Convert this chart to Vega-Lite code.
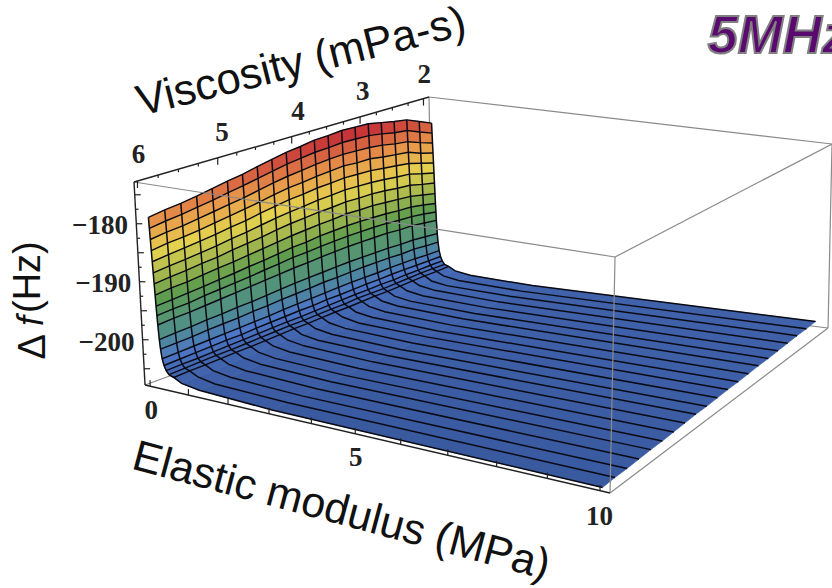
{"$schema":"https://vega.github.io/schema/vega-lite/v6.json","width":832,"height":588,"padding":0,"autosize":"none","background":"white","view":{"stroke":null},
"datasets":{"all":[
{"v":2,"e":0.1,"d":-177.3},{"v":2,"e":0.11,"d":-179.2},{"v":2,"e":0.12,"d":-181.1},{"v":2,"e":0.13,"d":-183},{"v":2,"e":0.14,"d":-184.9},{"v":2,"e":0.15,"d":-186.8},{"v":2,"e":0.16,"d":-188.7},{"v":2,"e":0.17,"d":-190.7},{"v":2,"e":0.18,"d":-192.6},{"v":2,"e":0.19,"d":-194.2},{"v":2,"e":0.2,"d":-195.8},{"v":2,"e":0.22,"d":-198.3},{"v":2,"e":0.24,"d":-199.9},{"v":2,"e":0.27,"d":-201.5},{"v":2,"e":0.31,"d":-202.6},{"v":2,"e":0.36,"d":-203.4},{"v":2,"e":0.43,"d":-204},{"v":2,"e":0.55,"d":-204.3},{"v":2,"e":0.75,"d":-205},{"v":2,"e":1.2,"d":-205.5},{"v":2,"e":3,"d":-206},{"v":2,"e":10,"d":-206.2},
{"v":2.2,"e":0.1,"d":-176.3},{"v":2.2,"e":0.11,"d":-178.3},{"v":2.2,"e":0.12,"d":-180.3},{"v":2.2,"e":0.13,"d":-182.3},{"v":2.2,"e":0.14,"d":-184.2},{"v":2.2,"e":0.15,"d":-186.2},{"v":2.2,"e":0.16,"d":-188.2},{"v":2.2,"e":0.17,"d":-190.2},{"v":2.2,"e":0.18,"d":-192.1},{"v":2.2,"e":0.19,"d":-193.8},{"v":2.2,"e":0.2,"d":-195.5},{"v":2.2,"e":0.22,"d":-198.1},{"v":2.2,"e":0.24,"d":-199.8},{"v":2.2,"e":0.27,"d":-201.5},{"v":2.2,"e":0.31,"d":-202.6},{"v":2.2,"e":0.36,"d":-203.4},{"v":2.2,"e":0.43,"d":-204},{"v":2.2,"e":0.55,"d":-204.4},{"v":2.2,"e":0.75,"d":-205.1},{"v":2.2,"e":1.2,"d":-205.6},{"v":2.2,"e":3,"d":-206.1},{"v":2.2,"e":10,"d":-206.3},
{"v":2.4,"e":0.1,"d":-175.3},{"v":2.4,"e":0.11,"d":-177.3},{"v":2.4,"e":0.12,"d":-179.4},{"v":2.4,"e":0.13,"d":-181.4},{"v":2.4,"e":0.14,"d":-183.5},{"v":2.4,"e":0.15,"d":-185.5},{"v":2.4,"e":0.16,"d":-187.6},{"v":2.4,"e":0.17,"d":-189.7},{"v":2.4,"e":0.18,"d":-191.7},{"v":2.4,"e":0.19,"d":-193.5},{"v":2.4,"e":0.2,"d":-195.2},{"v":2.4,"e":0.22,"d":-197.9},{"v":2.4,"e":0.24,"d":-199.6},{"v":2.4,"e":0.27,"d":-201.4},{"v":2.4,"e":0.31,"d":-202.6},{"v":2.4,"e":0.36,"d":-203.5},{"v":2.4,"e":0.43,"d":-204},{"v":2.4,"e":0.55,"d":-204.4},{"v":2.4,"e":0.75,"d":-205.2},{"v":2.4,"e":1.2,"d":-205.7},{"v":2.4,"e":3,"d":-206.1},{"v":2.4,"e":10,"d":-206.3},
{"v":2.6,"e":0.1,"d":-174.9},{"v":2.6,"e":0.11,"d":-177},{"v":2.6,"e":0.12,"d":-179.1},{"v":2.6,"e":0.13,"d":-181.1},{"v":2.6,"e":0.14,"d":-183.2},{"v":2.6,"e":0.15,"d":-185.3},{"v":2.6,"e":0.16,"d":-187.4},{"v":2.6,"e":0.17,"d":-189.5},{"v":2.6,"e":0.18,"d":-191.6},{"v":2.6,"e":0.19,"d":-193.4},{"v":2.6,"e":0.2,"d":-195.2},{"v":2.6,"e":0.22,"d":-197.9},{"v":2.6,"e":0.24,"d":-199.7},{"v":2.6,"e":0.27,"d":-201.4},{"v":2.6,"e":0.31,"d":-202.6},{"v":2.6,"e":0.36,"d":-203.5},{"v":2.6,"e":0.43,"d":-204.1},{"v":2.6,"e":0.55,"d":-204.5},{"v":2.6,"e":0.75,"d":-205.2},{"v":2.6,"e":1.2,"d":-205.7},{"v":2.6,"e":3,"d":-206.2},{"v":2.6,"e":10,"d":-206.4},
{"v":2.8,"e":0.1,"d":-174.4},{"v":2.8,"e":0.11,"d":-176.5},{"v":2.8,"e":0.12,"d":-178.6},{"v":2.8,"e":0.13,"d":-180.8},{"v":2.8,"e":0.14,"d":-182.9},{"v":2.8,"e":0.15,"d":-185},{"v":2.8,"e":0.16,"d":-187.1},{"v":2.8,"e":0.17,"d":-189.3},{"v":2.8,"e":0.18,"d":-191.4},{"v":2.8,"e":0.19,"d":-193.2},{"v":2.8,"e":0.2,"d":-195},{"v":2.8,"e":0.22,"d":-197.8},{"v":2.8,"e":0.24,"d":-199.6},{"v":2.8,"e":0.27,"d":-201.4},{"v":2.8,"e":0.31,"d":-202.6},{"v":2.8,"e":0.36,"d":-203.6},{"v":2.8,"e":0.43,"d":-204.2},{"v":2.8,"e":0.55,"d":-204.6},{"v":2.8,"e":0.75,"d":-205.3},{"v":2.8,"e":1.2,"d":-205.8},{"v":2.8,"e":3,"d":-206.3},{"v":2.8,"e":10,"d":-206.5},
{"v":3,"e":0.1,"d":-173.9},{"v":3,"e":0.11,"d":-176.1},{"v":3,"e":0.12,"d":-178.3},{"v":3,"e":0.13,"d":-180.4},{"v":3,"e":0.14,"d":-182.6},{"v":3,"e":0.15,"d":-184.8},{"v":3,"e":0.16,"d":-186.9},{"v":3,"e":0.17,"d":-189.1},{"v":3,"e":0.18,"d":-191.3},{"v":3,"e":0.19,"d":-193.1},{"v":3,"e":0.2,"d":-195},{"v":3,"e":0.22,"d":-197.8},{"v":3,"e":0.24,"d":-199.6},{"v":3,"e":0.27,"d":-201.5},{"v":3,"e":0.31,"d":-202.7},{"v":3,"e":0.36,"d":-203.6},{"v":3,"e":0.43,"d":-204.3},{"v":3,"e":0.55,"d":-204.7},{"v":3,"e":0.75,"d":-205.4},{"v":3,"e":1.2,"d":-205.9},{"v":3,"e":3,"d":-206.4},{"v":3,"e":10,"d":-206.6},
{"v":3.2,"e":0.1,"d":-173.8},{"v":3.2,"e":0.11,"d":-176},{"v":3.2,"e":0.12,"d":-178.2},{"v":3.2,"e":0.13,"d":-180.4},{"v":3.2,"e":0.14,"d":-182.5},{"v":3.2,"e":0.15,"d":-184.7},{"v":3.2,"e":0.16,"d":-186.9},{"v":3.2,"e":0.17,"d":-189.1},{"v":3.2,"e":0.18,"d":-191.2},{"v":3.2,"e":0.19,"d":-193.1},{"v":3.2,"e":0.2,"d":-195},{"v":3.2,"e":0.22,"d":-197.8},{"v":3.2,"e":0.24,"d":-199.6},{"v":3.2,"e":0.27,"d":-201.5},{"v":3.2,"e":0.31,"d":-202.7},{"v":3.2,"e":0.36,"d":-203.7},{"v":3.2,"e":0.43,"d":-204.3},{"v":3.2,"e":0.55,"d":-204.7},{"v":3.2,"e":0.75,"d":-205.4},{"v":3.2,"e":1.2,"d":-205.9},{"v":3.2,"e":3,"d":-206.4},{"v":3.2,"e":10,"d":-206.6},
{"v":3.4,"e":0.1,"d":-173.7},{"v":3.4,"e":0.11,"d":-175.9},{"v":3.4,"e":0.12,"d":-178.1},{"v":3.4,"e":0.13,"d":-180.2},{"v":3.4,"e":0.14,"d":-182.4},{"v":3.4,"e":0.15,"d":-184.6},{"v":3.4,"e":0.16,"d":-186.8},{"v":3.4,"e":0.17,"d":-189},{"v":3.4,"e":0.18,"d":-191.2},{"v":3.4,"e":0.19,"d":-193.1},{"v":3.4,"e":0.2,"d":-195},{"v":3.4,"e":0.22,"d":-197.8},{"v":3.4,"e":0.24,"d":-199.7},{"v":3.4,"e":0.27,"d":-201.5},{"v":3.4,"e":0.31,"d":-202.8},{"v":3.4,"e":0.36,"d":-203.7},{"v":3.4,"e":0.43,"d":-204.3},{"v":3.4,"e":0.55,"d":-204.8},{"v":3.4,"e":0.75,"d":-205.5},{"v":3.4,"e":1.2,"d":-206},{"v":3.4,"e":3,"d":-206.5},{"v":3.4,"e":10,"d":-206.7},
{"v":3.6,"e":0.1,"d":-173.9},{"v":3.6,"e":0.11,"d":-176.1},{"v":3.6,"e":0.12,"d":-178.2},{"v":3.6,"e":0.13,"d":-180.4},{"v":3.6,"e":0.14,"d":-182.6},{"v":3.6,"e":0.15,"d":-184.8},{"v":3.6,"e":0.16,"d":-187},{"v":3.6,"e":0.17,"d":-189.2},{"v":3.6,"e":0.18,"d":-191.3},{"v":3.6,"e":0.19,"d":-193.2},{"v":3.6,"e":0.2,"d":-195.1},{"v":3.6,"e":0.22,"d":-197.9},{"v":3.6,"e":0.24,"d":-199.8},{"v":3.6,"e":0.27,"d":-201.6},{"v":3.6,"e":0.31,"d":-202.9},{"v":3.6,"e":0.36,"d":-203.8},{"v":3.6,"e":0.43,"d":-204.5},{"v":3.6,"e":0.55,"d":-204.9},{"v":3.6,"e":0.75,"d":-205.6},{"v":3.6,"e":1.2,"d":-206.1},{"v":3.6,"e":3,"d":-206.6},{"v":3.6,"e":10,"d":-206.8},
{"v":3.8,"e":0.1,"d":-174},{"v":3.8,"e":0.11,"d":-176.2},{"v":3.8,"e":0.12,"d":-178.4},{"v":3.8,"e":0.13,"d":-180.6},{"v":3.8,"e":0.14,"d":-182.7},{"v":3.8,"e":0.15,"d":-184.9},{"v":3.8,"e":0.16,"d":-187.1},{"v":3.8,"e":0.17,"d":-189.3},{"v":3.8,"e":0.18,"d":-191.4},{"v":3.8,"e":0.19,"d":-193.3},{"v":3.8,"e":0.2,"d":-195.2},{"v":3.8,"e":0.22,"d":-198},{"v":3.8,"e":0.24,"d":-199.8},{"v":3.8,"e":0.27,"d":-201.7},{"v":3.8,"e":0.31,"d":-202.9},{"v":3.8,"e":0.36,"d":-203.9},{"v":3.8,"e":0.43,"d":-204.5},{"v":3.8,"e":0.55,"d":-204.9},{"v":3.8,"e":0.75,"d":-205.6},{"v":3.8,"e":1.2,"d":-206.2},{"v":3.8,"e":3,"d":-206.6},{"v":3.8,"e":10,"d":-206.8},
{"v":4,"e":0.1,"d":-174.4},{"v":4,"e":0.11,"d":-176.5},{"v":4,"e":0.12,"d":-178.7},{"v":4,"e":0.13,"d":-180.9},{"v":4,"e":0.14,"d":-183},{"v":4,"e":0.15,"d":-185.2},{"v":4,"e":0.16,"d":-187.3},{"v":4,"e":0.17,"d":-189.5},{"v":4,"e":0.18,"d":-191.7},{"v":4,"e":0.19,"d":-193.5},{"v":4,"e":0.2,"d":-195.4},{"v":4,"e":0.22,"d":-198.1},{"v":4,"e":0.24,"d":-200},{"v":4,"e":0.27,"d":-201.8},{"v":4,"e":0.31,"d":-203.1},{"v":4,"e":0.36,"d":-204},{"v":4,"e":0.43,"d":-204.6},{"v":4,"e":0.55,"d":-205},{"v":4,"e":0.75,"d":-205.7},{"v":4,"e":1.2,"d":-206.2},{"v":4,"e":3,"d":-206.7},{"v":4,"e":10,"d":-206.9},
{"v":4.2,"e":0.1,"d":-174.7},{"v":4.2,"e":0.11,"d":-176.8},{"v":4.2,"e":0.12,"d":-179},{"v":4.2,"e":0.13,"d":-181.1},{"v":4.2,"e":0.14,"d":-183.2},{"v":4.2,"e":0.15,"d":-185.4},{"v":4.2,"e":0.16,"d":-187.5},{"v":4.2,"e":0.17,"d":-189.7},{"v":4.2,"e":0.18,"d":-191.8},{"v":4.2,"e":0.19,"d":-193.6},{"v":4.2,"e":0.2,"d":-195.5},{"v":4.2,"e":0.22,"d":-198.2},{"v":4.2,"e":0.24,"d":-200.1},{"v":4.2,"e":0.27,"d":-201.9},{"v":4.2,"e":0.31,"d":-203.1},{"v":4.2,"e":0.36,"d":-204.1},{"v":4.2,"e":0.43,"d":-204.7},{"v":4.2,"e":0.55,"d":-205.1},{"v":4.2,"e":0.75,"d":-205.8},{"v":4.2,"e":1.2,"d":-206.3},{"v":4.2,"e":3,"d":-206.8},{"v":4.2,"e":10,"d":-207},
{"v":4.4,"e":0.1,"d":-175.2},{"v":4.4,"e":0.11,"d":-177.3},{"v":4.4,"e":0.12,"d":-179.4},{"v":4.4,"e":0.13,"d":-181.5},{"v":4.4,"e":0.14,"d":-183.6},{"v":4.4,"e":0.15,"d":-185.7},{"v":4.4,"e":0.16,"d":-187.8},{"v":4.4,"e":0.17,"d":-190},{"v":4.4,"e":0.18,"d":-192.1},{"v":4.4,"e":0.19,"d":-193.9},{"v":4.4,"e":0.2,"d":-195.7},{"v":4.4,"e":0.22,"d":-198.4},{"v":4.4,"e":0.24,"d":-200.2},{"v":4.4,"e":0.27,"d":-202},{"v":4.4,"e":0.31,"d":-203.2},{"v":4.4,"e":0.36,"d":-204.1},{"v":4.4,"e":0.43,"d":-204.7},{"v":4.4,"e":0.55,"d":-205.1},{"v":4.4,"e":0.75,"d":-205.9},{"v":4.4,"e":1.2,"d":-206.4},{"v":4.4,"e":3,"d":-206.8},{"v":4.4,"e":10,"d":-207},
{"v":4.6,"e":0.1,"d":-175.7},{"v":4.6,"e":0.11,"d":-177.8},{"v":4.6,"e":0.12,"d":-179.9},{"v":4.6,"e":0.13,"d":-182},{"v":4.6,"e":0.14,"d":-184},{"v":4.6,"e":0.15,"d":-186.1},{"v":4.6,"e":0.16,"d":-188.2},{"v":4.6,"e":0.17,"d":-190.3},{"v":4.6,"e":0.18,"d":-192.4},{"v":4.6,"e":0.19,"d":-194.1},{"v":4.6,"e":0.2,"d":-195.9},{"v":4.6,"e":0.22,"d":-198.6},{"v":4.6,"e":0.24,"d":-200.4},{"v":4.6,"e":0.27,"d":-202.2},{"v":4.6,"e":0.31,"d":-203.3},{"v":4.6,"e":0.36,"d":-204.2},{"v":4.6,"e":0.43,"d":-204.8},{"v":4.6,"e":0.55,"d":-205.2},{"v":4.6,"e":0.75,"d":-205.9},{"v":4.6,"e":1.2,"d":-206.4},{"v":4.6,"e":3,"d":-206.9},{"v":4.6,"e":10,"d":-207.1},
{"v":4.8,"e":0.1,"d":-176.3},{"v":4.8,"e":0.11,"d":-178.3},{"v":4.8,"e":0.12,"d":-180.4},{"v":4.8,"e":0.13,"d":-182.4},{"v":4.8,"e":0.14,"d":-184.5},{"v":4.8,"e":0.15,"d":-186.5},{"v":4.8,"e":0.16,"d":-188.5},{"v":4.8,"e":0.17,"d":-190.6},{"v":4.8,"e":0.18,"d":-192.6},{"v":4.8,"e":0.19,"d":-194.4},{"v":4.8,"e":0.2,"d":-196.1},{"v":4.8,"e":0.22,"d":-198.8},{"v":4.8,"e":0.24,"d":-200.5},{"v":4.8,"e":0.27,"d":-202.3},{"v":4.8,"e":0.31,"d":-203.4},{"v":4.8,"e":0.36,"d":-204.3},{"v":4.8,"e":0.43,"d":-204.9},{"v":4.8,"e":0.55,"d":-205.3},{"v":4.8,"e":0.75,"d":-206},{"v":4.8,"e":1.2,"d":-206.5},{"v":4.8,"e":3,"d":-207},{"v":4.8,"e":10,"d":-207.2},
{"v":5,"e":0.1,"d":-176.7},{"v":5,"e":0.11,"d":-178.7},{"v":5,"e":0.12,"d":-180.8},{"v":5,"e":0.13,"d":-182.8},{"v":5,"e":0.14,"d":-184.8},{"v":5,"e":0.15,"d":-186.8},{"v":5,"e":0.16,"d":-188.8},{"v":5,"e":0.17,"d":-190.9},{"v":5,"e":0.18,"d":-192.9},{"v":5,"e":0.19,"d":-194.6},{"v":5,"e":0.2,"d":-196.3},{"v":5,"e":0.22,"d":-198.9},{"v":5,"e":0.24,"d":-200.7},{"v":5,"e":0.27,"d":-202.4},{"v":5,"e":0.31,"d":-203.6},{"v":5,"e":0.36,"d":-204.4},{"v":5,"e":0.43,"d":-205},{"v":5,"e":0.55,"d":-205.4},{"v":5,"e":0.75,"d":-206.1},{"v":5,"e":1.2,"d":-206.6},{"v":5,"e":3,"d":-207.1},{"v":5,"e":10,"d":-207.3},
{"v":5.2,"e":0.1,"d":-177.2},{"v":5.2,"e":0.11,"d":-179.2},{"v":5.2,"e":0.12,"d":-181.2},{"v":5.2,"e":0.13,"d":-183.2},{"v":5.2,"e":0.14,"d":-185.2},{"v":5.2,"e":0.15,"d":-187.2},{"v":5.2,"e":0.16,"d":-189.2},{"v":5.2,"e":0.17,"d":-191.1},{"v":5.2,"e":0.18,"d":-193.1},{"v":5.2,"e":0.19,"d":-194.8},{"v":5.2,"e":0.2,"d":-196.5},{"v":5.2,"e":0.22,"d":-199.1},{"v":5.2,"e":0.24,"d":-200.8},{"v":5.2,"e":0.27,"d":-202.5},{"v":5.2,"e":0.31,"d":-203.6},{"v":5.2,"e":0.36,"d":-204.5},{"v":5.2,"e":0.43,"d":-205.1},{"v":5.2,"e":0.55,"d":-205.4},{"v":5.2,"e":0.75,"d":-206.1},{"v":5.2,"e":1.2,"d":-206.6},{"v":5.2,"e":3,"d":-207.1},{"v":5.2,"e":10,"d":-207.3},
{"v":5.4,"e":0.1,"d":-177.7},{"v":5.4,"e":0.11,"d":-179.6},{"v":5.4,"e":0.12,"d":-181.6},{"v":5.4,"e":0.13,"d":-183.6},{"v":5.4,"e":0.14,"d":-185.5},{"v":5.4,"e":0.15,"d":-187.5},{"v":5.4,"e":0.16,"d":-189.4},{"v":5.4,"e":0.17,"d":-191.4},{"v":5.4,"e":0.18,"d":-193.4},{"v":5.4,"e":0.19,"d":-195},{"v":5.4,"e":0.2,"d":-196.7},{"v":5.4,"e":0.22,"d":-199.2},{"v":5.4,"e":0.24,"d":-200.9},{"v":5.4,"e":0.27,"d":-202.6},{"v":5.4,"e":0.31,"d":-203.7},{"v":5.4,"e":0.36,"d":-204.6},{"v":5.4,"e":0.43,"d":-205.1},{"v":5.4,"e":0.55,"d":-205.5},{"v":5.4,"e":0.75,"d":-206.2},{"v":5.4,"e":1.2,"d":-206.7},{"v":5.4,"e":3,"d":-207.2},{"v":5.4,"e":10,"d":-207.4},
{"v":5.6,"e":0.1,"d":-178.1},{"v":5.6,"e":0.11,"d":-180},{"v":5.6,"e":0.12,"d":-182},{"v":5.6,"e":0.13,"d":-183.9},{"v":5.6,"e":0.14,"d":-185.8},{"v":5.6,"e":0.15,"d":-187.8},{"v":5.6,"e":0.16,"d":-189.7},{"v":5.6,"e":0.17,"d":-191.7},{"v":5.6,"e":0.18,"d":-193.6},{"v":5.6,"e":0.19,"d":-195.3},{"v":5.6,"e":0.2,"d":-196.9},{"v":5.6,"e":0.22,"d":-199.4},{"v":5.6,"e":0.24,"d":-201.1},{"v":5.6,"e":0.27,"d":-202.7},{"v":5.6,"e":0.31,"d":-203.8},{"v":5.6,"e":0.36,"d":-204.7},{"v":5.6,"e":0.43,"d":-205.2},{"v":5.6,"e":0.55,"d":-205.6},{"v":5.6,"e":0.75,"d":-206.3},{"v":5.6,"e":1.2,"d":-206.8},{"v":5.6,"e":3,"d":-207.3},{"v":5.6,"e":10,"d":-207.5},
{"v":5.8,"e":0.1,"d":-178.4},{"v":5.8,"e":0.11,"d":-180.3},{"v":5.8,"e":0.12,"d":-182.2},{"v":5.8,"e":0.13,"d":-184.1},{"v":5.8,"e":0.14,"d":-186.1},{"v":5.8,"e":0.15,"d":-188},{"v":5.8,"e":0.16,"d":-189.9},{"v":5.8,"e":0.17,"d":-191.8},{"v":5.8,"e":0.18,"d":-193.8},{"v":5.8,"e":0.19,"d":-195.4},{"v":5.8,"e":0.2,"d":-197},{"v":5.8,"e":0.22,"d":-199.5},{"v":5.8,"e":0.24,"d":-201.2},{"v":5.8,"e":0.27,"d":-202.8},{"v":5.8,"e":0.31,"d":-203.9},{"v":5.8,"e":0.36,"d":-204.7},{"v":5.8,"e":0.43,"d":-205.3},{"v":5.8,"e":0.55,"d":-205.6},{"v":5.8,"e":0.75,"d":-206.3},{"v":5.8,"e":1.2,"d":-206.9},{"v":5.8,"e":3,"d":-207.3},{"v":5.8,"e":10,"d":-207.5},
{"v":6,"e":0.1,"d":-178.8},{"v":6,"e":0.11,"d":-180.7},{"v":6,"e":0.12,"d":-182.6},{"v":6,"e":0.13,"d":-184.5},{"v":6,"e":0.14,"d":-186.4},{"v":6,"e":0.15,"d":-188.3},{"v":6,"e":0.16,"d":-190.2},{"v":6,"e":0.17,"d":-192.1},{"v":6,"e":0.18,"d":-194},{"v":6,"e":0.19,"d":-195.6},{"v":6,"e":0.2,"d":-197.2},{"v":6,"e":0.22,"d":-199.7},{"v":6,"e":0.24,"d":-201.3},{"v":6,"e":0.27,"d":-202.9},{"v":6,"e":0.31,"d":-204},{"v":6,"e":0.36,"d":-204.8},{"v":6,"e":0.43,"d":-205.4},{"v":6,"e":0.55,"d":-205.7},{"v":6,"e":0.75,"d":-206.4},{"v":6,"e":1.2,"d":-206.9},{"v":6,"e":3,"d":-207.4},{"v":6,"e":10,"d":-207.6},
{"k":"b","i":1,"e":-0.134,"v":1.909,"d":-172.8},{"k":"b","i":1,"e":10.186,"v":1.909,"d":-172.8},
{"k":"b","i":2,"e":10.186,"v":1.909,"d":-172.8},{"k":"b","i":2,"e":10.186,"v":1.909,"d":-207.8},
{"k":"b","i":3,"e":10.186,"v":1.909,"d":-207.8},{"k":"b","i":3,"e":10.186,"v":6.041,"d":-207.8},
{"k":"b","i":4,"e":-0.134,"v":6.041,"d":-207.8},{"k":"b","i":4,"e":-0.134,"v":1.909,"d":-207.8},
{"k":"b","i":5,"e":-0.134,"v":1.909,"d":-207.8},{"k":"b","i":5,"e":10.186,"v":1.909,"d":-207.8},
{"k":"b","i":6,"e":-0.134,"v":1.909,"d":-207.8},{"k":"b","i":6,"e":-0.134,"v":1.909,"d":-172.8},
{"k":"b","i":7,"e":10.186,"v":1.909,"d":-172.8},{"k":"b","i":7,"e":10.186,"v":6.041,"d":-172.8},
{"k":"f","i":1,"e":-0.134,"v":6.041,"d":-172.8},{"k":"f","i":1,"e":10.186,"v":6.041,"d":-172.8},
{"k":"f","i":2,"e":10.186,"v":6.041,"d":-172.8},{"k":"f","i":2,"e":10.186,"v":6.041,"d":-207.8},
{"k":"n","i":1,"e":-0.134,"v":6.041,"d":-207.8},{"k":"n","i":1,"e":10.186,"v":6.041,"d":-207.8},
{"k":"n","i":2,"e":-0.134,"v":6.041,"d":-172.8},{"k":"n","i":2,"e":-0.134,"v":1.909,"d":-172.8},
{"k":"n","i":3,"e":-0.134,"v":6.041,"d":-207.8},{"k":"n","i":3,"e":-0.134,"v":6.041,"d":-172.8},
{"k":"xa","e":0,"v":6.041,"d":-207.8},{"k":"xa","e":1,"v":6.041,"d":-207.8},{"k":"xa","e":2,"v":6.041,"d":-207.8},{"k":"xa","e":3,"v":6.041,"d":-207.8},{"k":"xa","e":4,"v":6.041,"d":-207.8},{"k":"xa","e":5,"v":6.041,"d":-207.8},{"k":"xa","e":6,"v":6.041,"d":-207.8},{"k":"xa","e":7,"v":6.041,"d":-207.8},{"k":"xa","e":8,"v":6.041,"d":-207.8},{"k":"xa","e":9,"v":6.041,"d":-207.8},{"k":"xa","e":10,"v":6.041,"d":-207.8},
{"k":"xb","e":-0.134,"v":6,"d":-172.8},{"k":"xb","e":-0.134,"v":5.75,"d":-172.8},{"k":"xb","e":-0.134,"v":5.5,"d":-172.8},{"k":"xb","e":-0.134,"v":5.25,"d":-172.8},{"k":"xb","e":-0.134,"v":5,"d":-172.8},{"k":"xb","e":-0.134,"v":4.75,"d":-172.8},{"k":"xb","e":-0.134,"v":4.5,"d":-172.8},{"k":"xb","e":-0.134,"v":4.25,"d":-172.8},{"k":"xb","e":-0.134,"v":4,"d":-172.8},{"k":"xb","e":-0.134,"v":3.75,"d":-172.8},{"k":"xb","e":-0.134,"v":3.5,"d":-172.8},{"k":"xb","e":-0.134,"v":3.25,"d":-172.8},{"k":"xb","e":-0.134,"v":3,"d":-172.8},{"k":"xb","e":-0.134,"v":2.75,"d":-172.8},{"k":"xb","e":-0.134,"v":2.5,"d":-172.8},{"k":"xb","e":-0.134,"v":2.25,"d":-172.8},{"k":"xb","e":-0.134,"v":2,"d":-172.8},
{"k":"xc","e":-0.134,"v":6.041,"d":-205},{"k":"xc","e":-0.134,"v":6.041,"d":-202.5},{"k":"xc","e":-0.134,"v":6.041,"d":-200},{"k":"xc","e":-0.134,"v":6.041,"d":-197.5},{"k":"xc","e":-0.134,"v":6.041,"d":-195},{"k":"xc","e":-0.134,"v":6.041,"d":-192.5},{"k":"xc","e":-0.134,"v":6.041,"d":-190},{"k":"xc","e":-0.134,"v":6.041,"d":-187.5},{"k":"xc","e":-0.134,"v":6.041,"d":-185},{"k":"xc","e":-0.134,"v":6.041,"d":-182.5},{"k":"xc","e":-0.134,"v":6.041,"d":-180},{"k":"xc","e":-0.134,"v":6.041,"d":-177.5},{"k":"xc","e":-0.134,"v":6.041,"d":-175},
{"k":"l","s":"0","e":0,"v":6.041,"d":-212},{"k":"l","s":"5","e":5,"v":6.041,"d":-211.7},{"k":"l","s":"10","e":10,"v":6.041,"d":-211.7},
{"k":"l","s":"6","e":-0.134,"v":5.97,"d":-168.4},{"k":"l","s":"5","e":-0.134,"v":4.93,"d":-168.6},{"k":"l","s":"4","e":-0.134,"v":3.9,"d":-168.6},{"k":"l","s":"3","e":-0.134,"v":2.95,"d":-168.3},{"k":"l","s":"2","e":-0.134,"v":1.98,"d":-168.3},
{"k":"m","s":"−180","e":-0.134,"v":6.14,"d":-179.9},{"k":"m","s":"−190","e":-0.134,"v":6.14,"d":-190},{"k":"m","s":"−200","e":-0.134,"v":6.14,"d":-200},
{"k":"vt","s":"Viscosity (mPa-s)","e":-0.134,"v":3.83,"d":-159.9},
{"k":"et","s":"Elastic modulus (MPa)","e":4.65,"v":6.041,"d":-220.9},
{"k":"dt","s":"Δ","e":-0.134,"v":7.27,"d":-195},{"k":"di","s":"f","e":-0.134,"v":7.27,"d":-190.7},{"k":"dt","s":"(Hz)","e":-0.134,"v":7.27,"d":-183.4},
{"k":"h","s":"5MHz","e":7.37,"v":1.909,"d":-155.1}
]},
"data":{"name":"all"},
"transform":[
{"calculate":"0.013+0.0969*datum.e","as":"u0"},
{"calculate":"datum.u0/(datum.u0+1.2*(1-datum.u0))","as":"U"},
{"calculate":"0.01+0.242*(6-datum.v)","as":"w0"},
{"calculate":"datum.w0/(datum.w0+0.85*(1-datum.w0))","as":"W"},
{"calculate":"(datum.d+207.8)/35","as":"t"},
{"calculate":"(1-datum.U)*(1-datum.W)*(145-11*datum.t)+(1-datum.U)*datum.W*(432-3*datum.t)+datum.U*(1-datum.W)*(610+5*datum.t)+datum.U*datum.W*(828+4*datum.t)","as":"px"},
{"calculate":"(1-datum.U)*(1-datum.W)*(385-203*datum.t)+(1-datum.U)*datum.W*(280-183*datum.t)+datum.U*(1-datum.W)*(493-236*datum.t)+datum.U*datum.W*(328-184*datum.t)","as":"py"}
],
"encoding":{"x":{"field":"px","type":"quantitative","scale":{"domain":[0,832],"nice":false,"zero":false},"axis":null},"y":{"field":"py","type":"quantitative","scale":{"domain":[588,0],"nice":false,"zero":false},"axis":null}},
"layer":[
{"transform":[{"filter":"datum.k=='b'"}],"mark":{"type":"line","stroke":"#8a8a8a","strokeWidth":1.2},"encoding":{"detail":{"field":"i"}}},
{"transform":[{"filter":"!datum.k"},
{"window":[{"op":"lead","field":"px","as":"xE"},{"op":"lead","field":"py","as":"yE"},{"op":"lead","field":"d","as":"dE"}],"groupby":["v"],"sort":[{"field":"e"}]},
{"window":[{"op":"lead","field":"px","as":"xV"},{"op":"lead","field":"py","as":"yV"},{"op":"lead","field":"xE","as":"xD"},{"op":"lead","field":"yE","as":"yD"}],"groupby":["e"],"sort":[{"field":"v","order":"descending"}]},
{"filter":"isValid(datum.xD)"},
{"calculate":"(datum.d+datum.dE)/2","as":"c"},
{"calculate":"datum.e+'_'+datum.v","as":"cell"},
{"calculate":"[datum.px,datum.xE,datum.xD,datum.xV,datum.px]","as":"ax"},
{"calculate":"[datum.py,datum.yE,datum.yD,datum.yV,datum.py]","as":"ay"},
{"calculate":"[0,1,2,3,4]","as":"o"},
{"flatten":["ax","ay","o"]}],
"mark":{"type":"line","strokeWidth":0.6},"encoding":{"x":{"field":"ax","type":"quantitative"},"y":{"field":"ay","type":"quantitative"},"detail":{"field":"cell"},"order":{"field":"o"},
"fill":{"field":"c","type":"quantitative","legend":null,"scale":{"interpolate":"rgb","domain":[-207,-203,-199,-193,-189,-185,-180,-176],"range":["#3c5da4","#4c76c6","#4f8f8a","#5e9d4e","#a8b94e","#e6d24e","#e8964a","#cf4b3c"]}},
"stroke":{"field":"c","type":"quantitative","legend":null,"scale":{"interpolate":"rgb","domain":[-207,-203,-199,-193,-189,-185,-180,-176],"range":["#3c5da4","#4c76c6","#4f8f8a","#5e9d4e","#a8b94e","#e6d24e","#e8964a","#cf4b3c"]}}}},
{"transform":[{"filter":"!datum.k"}],"mark":{"type":"line","stroke":"#0a0a14","strokeWidth":1.5},"encoding":{"detail":{"field":"v"},"order":{"field":"e"}}},
{"transform":[{"filter":"!datum.k && datum.e<0.7"}],"mark":{"type":"line","stroke":"#0a0a14","strokeWidth":1.4},"encoding":{"detail":{"field":"e"},"order":{"field":"v"}}},
{"transform":[{"filter":"datum.k=='f'"}],"mark":{"type":"line","stroke":"#8a8a8a","strokeWidth":1.2},"encoding":{"detail":{"field":"i"}}},
{"transform":[{"filter":"datum.k=='n'"}],"mark":{"type":"line","stroke":"#222222","strokeWidth":1.4},"encoding":{"detail":{"field":"i"}}},
{"transform":[{"filter":"datum.k=='xa'||datum.k=='xb'||datum.k=='xc'"},
{"calculate":"datum.k=='xc'?datum.px+(datum.d%5==0?6:3):datum.px","as":"tx"},
{"calculate":"datum.k=='xa'?datum.py-6:(datum.k=='xb'?datum.py+(datum.v%1==0?7:3):datum.py)","as":"ty"}],
"mark":{"type":"rule","stroke":"#222222","strokeWidth":1.2},"encoding":{"x2":{"field":"tx"},"y2":{"field":"ty"}}},
{"transform":[{"filter":"datum.k=='l'"}],"mark":{"type":"text","font":"Liberation Serif","fontWeight":"bold","fontSize":27,"fill":"#222222"},"encoding":{"text":{"field":"s"}}},
{"transform":[{"filter":"datum.k=='m'"}],"mark":{"type":"text","font":"Liberation Serif","fontWeight":"bold","fontSize":27,"align":"right","fill":"#222222"},"encoding":{"text":{"field":"s"}}},
{"transform":[{"filter":"datum.k=='vt'"}],"mark":{"type":"text","font":"Liberation Sans","fontSize":43.5,"angle":346,"fill":"#111111"},"encoding":{"text":{"field":"s"}}},
{"transform":[{"filter":"datum.k=='et'"}],"mark":{"type":"text","font":"Liberation Sans","fontSize":43,"angle":15,"fill":"#111111"},"encoding":{"text":{"field":"s"}}},
{"transform":[{"filter":"datum.k=='dt'"}],"mark":{"type":"text","font":"Liberation Sans","fontSize":38,"angle":270,"fill":"#111111"},"encoding":{"text":{"field":"s"}}},
{"transform":[{"filter":"datum.k=='di'"}],"mark":{"type":"text","font":"Liberation Sans","fontStyle":"italic","fontSize":36,"angle":270,"fill":"#111111"},"encoding":{"text":{"field":"s"}}},
{"transform":[{"filter":"datum.k=='h'"}],"mark":{"type":"text","font":"Liberation Sans","fontWeight":"bold","fontStyle":"italic","fontSize":54,"align":"left","fill":"#5a0a6e","stroke":"#808080","strokeWidth":2},"encoding":{"text":{"field":"s"}}}
]}
